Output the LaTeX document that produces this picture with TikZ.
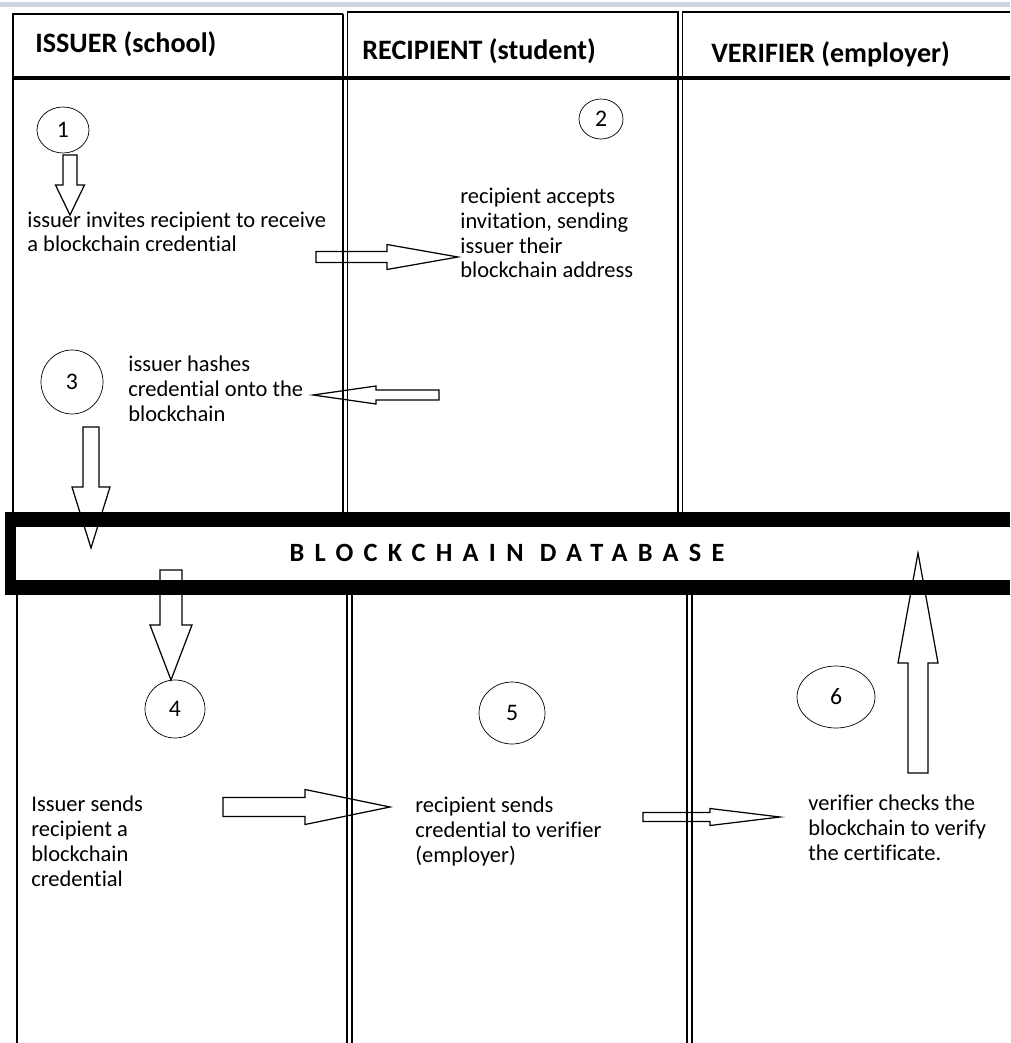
\documentclass[tikz,border=0pt]{standalone}
\usepackage{fontspec}
\setmainfont[Ligatures=NoCommon]{Carlito}
\usetikzlibrary{calc,shapes.geometric}
\definecolor{topband}{RGB}{205,213,226}
\tikzset{
  hdr/.style={anchor=base west, inner sep=0pt, font=\bfseries\fontsize{16}{18}\selectfont},
  note/.style={anchor=base west, align=left, inner sep=0pt, font=\fontsize{12.8}{14.05}\selectfont},
  stepnum/.style={draw, ellipse, thin, inner sep=0pt, font=\fontsize{13.5}{15}\selectfont},
  dbtitle/.style={inner sep=0pt, font=\bfseries\fontsize{15}{17}\selectfont\addfontfeature{LetterSpace=39}},
  lane/.style={line width=0.8pt},
  barrow/.style={draw, line width=0.7pt, line join=miter},
}
% block arrow: tail, tip, half shaft, half head, head length
\newcommand{\blockarrow}[5]{%
  \coordinate (hb) at ($(#2)!#5!(#1)$);
  \draw[barrow] ($(#1)!#3!90:(#2)$) -- ($(hb)!#3!-90:(#1)$) -- ($(hb)!#4!-90:(#1)$)
    -- (#2) -- ($(hb)!#4!90:(#1)$) -- ($(hb)!#3!90:(#1)$) -- ($(#1)!#3!-90:(#2)$) -- cycle;
}

\begin{document}
\begin{tikzpicture}[x=0.02cm, y=-0.02cm]
  \useasboundingbox (0,0) rectangle (1010,1043);
  \fill[topband] (0,2) rectangle (1010,7);

  % lanes
  \draw[lane] (13,512) -- (13,14) -- (343,14);
  \draw[lane] (343,14) -- (343,512);
  \draw[lane] (347.5,512) -- (347.5,12) -- (678,12) -- (678,512);
  \draw[lane] (682.5,512) -- (682.5,12) -- (1010,12);
  \draw[line width=2.3pt] (12,78) -- (1010,78);
  \draw[lane] (17,595) -- (17,1043);
  \draw[lane] (347,595) -- (347,1043);
  \draw[lane] (352,595) -- (352,1043);
  \draw[lane] (687,595) -- (687,1043);
  \draw[lane] (692,595) -- (692,1043);

  \node[hdr] (hIss) at (35,53) {ISSUER (school)};
  \node[hdr] (hRec) at (362,60) {RECIPIENT (student)};
  \node[hdr] (hVer) at (711,63) {VERIFIER (employer)};

  % steps
  \node[stepnum, minimum width=1.04cm, minimum height=0.92cm] (c1) at (63,130) {1};
  \node[stepnum, minimum width=0.88cm, minimum height=0.8cm] (c2) at (601,119) {2};
  \node[stepnum, minimum width=1.24cm, minimum height=1.28cm] (c3) at (72,382) {3};
  \node[stepnum, minimum width=1.2cm, minimum height=1.16cm] (c4) at (175,709) {4};
  \node[stepnum, minimum width=1.32cm, minimum height=1.24cm] (c5) at (512,713) {5};
  \node[stepnum, minimum width=1.56cm, minimum height=1.24cm] (c6) at (836,697) {6};

  % texts (placed by the baseline of their last line)
  \node[note] (t1) at (27,252) {issuer invites recipient to receive\\a blockchain credential};
  \node[note] (t2) at (460,278) {recipient accepts\\invitation, sending\\issuer their\\blockchain address};
  \node[note] (t3) at (128,421) {issuer hashes\\credential onto the\\blockchain};
  \node[note] (t4) at (31,886) {Issuer sends\\recipient a\\blockchain\\credential};
  \node[note] (t5) at (415,862) {recipient sends\\credential to verifier\\(employer)};
  \node[note] (t6) at (808,860) {verifier checks the\\blockchain to verify\\the certificate.};

  % arrow ends
  \coordinate (aS) at (70,155);   \coordinate (aT) at (70,215);
  \coordinate (bS) at (316,257);  \coordinate (bT) at (458,257);
  \coordinate (cS) at (439,395);  \coordinate (cT) at (313,395);
  \coordinate (dS) at (91,427);   \coordinate (dT) at (91,548);
  \coordinate (eS) at (171,570);  \coordinate (eT) at (171,680);
  \coordinate (fS) at (223,807);  \coordinate (fT) at (390,807);
  \coordinate (gS) at (643,817);  \coordinate (gT) at (780,817);
  \coordinate (hS) at (918,773);  \coordinate (hT) at (918,553);

  \blockarrow{aS}{aT}{0.14cm}{0.29cm}{0.6cm}
  \blockarrow{bS}{bT}{0.11cm}{0.25cm}{1.42cm}
  \blockarrow{cS}{cT}{0.1cm}{0.18cm}{1.26cm}
  \blockarrow{dS}{dT}{0.16cm}{0.38cm}{1.22cm}
  \blockarrow{eS}{eT}{0.22cm}{0.42cm}{1.1cm}
  \blockarrow{fS}{fT}{0.19cm}{0.35cm}{1.7cm}
  \blockarrow{gS}{gT}{0.09cm}{0.17cm}{1.4cm}
  \blockarrow{hS}{hT}{0.2cm}{0.4cm}{2.2cm}

  % blockchain band
  \fill (5,512) rectangle (1010,527);
  \fill (5,580) rectangle (1010,595);
  \fill (5,512) rectangle (16,595);
  \node[dbtitle] (db) at (507,553) {BLOCKCHAIN DATABASE};
\end{tikzpicture}
\end{document}
